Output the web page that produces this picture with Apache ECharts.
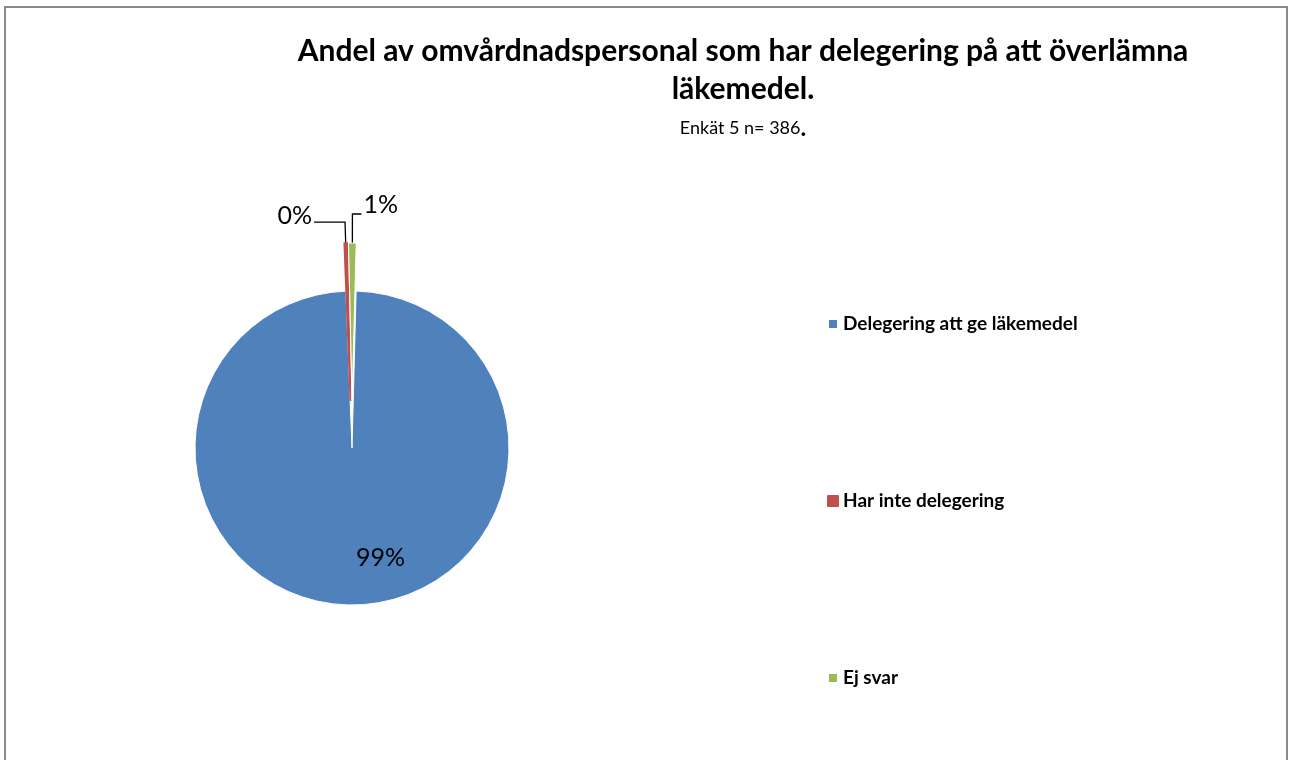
<!DOCTYPE html>
<html><head><meta charset="utf-8">
<script src="https://cdn.jsdelivr.net/npm/echarts@6/dist/echarts.min.js"></script>
<style>html,body{margin:0;padding:0;background:#fff}#c{width:1290px;height:760px}</style>
</head><body><div id="c"></div>
<script>
const categories = ['Delegering att ge läkemedel', 'Har inte delegering', 'Ej svar'];
const counts = [382, 1, 3];
const colors = ['#4F81BD', '#C0504D', '#9BBB59'];
const exploded = [false, true, true];

const FONT = 'Lato, "Open Sans", "Noto Sans", sans-serif';
const spacer = ['', '\n{sp1|}', '\n{sp2|}'];
const itemOpts = [
  { itemStyle: {}, label: { position: 'inside' }, labelLine: { show: false } },
  { itemStyle: { borderColor: '#C0504D', borderWidth: 2 },
    label: { position: 'outside' },
    labelLine: { show: true, length: 21, length2: 31 } },
  { itemStyle: {},
    label: { position: 'outside' },
    labelLine: { show: true, length: 29, length2: 9 } }
];
const data = categories.map((name, i) => ({
  name, value: counts[i], selected: exploded[i],
  itemStyle: Object.assign({ color: colors[i] }, itemOpts[i].itemStyle),
  label: itemOpts[i].label,
  labelLine: itemOpts[i].labelLine
}));

const chart = echarts.init(document.getElementById('c'), null, { renderer: 'canvas' });
chart.setOption({
  animation: false,
  backgroundColor: '#fff',
  graphic: [{ type: 'rect', shape: { x: 5, y: 7, width: 1282, height: 800 }, style: { fill: 'none', stroke: '#8a8a8a', lineWidth: 2 }, silent: true }],
  title: {
    text: 'Andel av omvårdnadspersonal som har delegering på att överlämna\nläkemedel.',
    subtext: '{a|Enkät 5 n= 386}{b|.}',
    left: 738, textAlign: 'center', top: 27, itemGap: 9,
    textStyle: { fontFamily: FONT, fontWeight: 'bold', fontSize: 30, color: '#000', lineHeight: 38 },
    subtextStyle: { rich: {
      a: { fontFamily: FONT, fontSize: 18, color: '#000', lineHeight: 22 },
      b: { fontFamily: FONT, fontSize: 24, fontWeight: 'bold', color: '#000', lineHeight: 22 } } }
  },
  legend: {
    orient: 'vertical', left: 822, top: 309, itemWidth: 10, itemHeight: 10, itemGap: 157,
    icon: 'rect', data: categories, selectedMode: false,
    textStyle: { fontFamily: FONT, fontWeight: 'bold', fontSize: 19, lineHeight: 20, color: '#000' }
  },
  series: [{
    type: 'pie', center: [352, 448], radius: 157, startAngle: 88.5, clockwise: true,
    selectedMode: 'multiple', selectedOffset: 48, avoidLabelOverlap: false,
    emphasis: { disabled: true }, animation: false,
    itemStyle: { borderColor: '#fff', borderWidth: 1 },
    label: { show: true, fontFamily: FONT, fontSize: 25, lineHeight: 28, color: '#000', distanceToLabelLine: 2,
      rich: { sp1: { height: 12, lineHeight: 12 }, sp2: { height: 18, lineHeight: 18 } },
      formatter: p => Math.round(p.percent) + '%' + spacer[p.dataIndex] },
    labelLine: { show: true, smooth: false, lineStyle: { color: '#000', width: 1.3 } },
    labelLayout: p => p.dataIndex === 0 ? { dx: 28, dy: 28 } : {},
    data
  }]
});
</script></body></html>
